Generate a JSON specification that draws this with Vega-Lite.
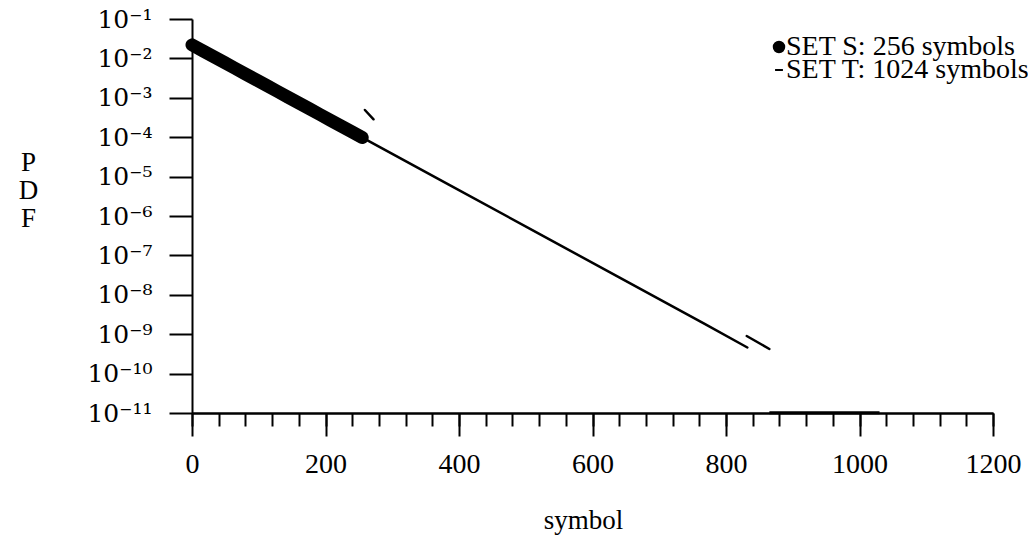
{
  "$schema": "https://vega.github.io/schema/vega-lite/v6.json",
  "width": 801,
  "height": 394,
  "autosize": "none",
  "padding": {"left": 192, "top": 19, "right": 35, "bottom": 131},
  "background": "white",
  "config": {
    "view": {"stroke": null},
    "font": "Liberation Serif",
    "axis": {
      "domainColor": "black", "domainWidth": 2, "tickColor": "black", "tickWidth": 2,
      "labelColor": "black", "titleColor": "black", "grid": false,
      "labelFont": "Liberation Serif", "titleFont": "Liberation Serif",
      "labelFlush": false, "labelOverlap": false, "titleFontWeight": "normal"
    }
  },
  "data": {
    "values": [
      {"part": "S", "series": "SET S: 256 symbols", "x": 0, "y": 0.02203},
      {"part": "S", "series": "SET S: 256 symbols", "x": 16, "y": 0.01568},
      {"part": "S", "series": "SET S: 256 symbols", "x": 32, "y": 0.01117},
      {"part": "S", "series": "SET S: 256 symbols", "x": 48, "y": 0.007951},
      {"part": "S", "series": "SET S: 256 symbols", "x": 64, "y": 0.005659},
      {"part": "S", "series": "SET S: 256 symbols", "x": 80, "y": 0.00403},
      {"part": "S", "series": "SET S: 256 symbols", "x": 96, "y": 0.00287},
      {"part": "S", "series": "SET S: 256 symbols", "x": 112, "y": 0.002044},
      {"part": "S", "series": "SET S: 256 symbols", "x": 128, "y": 0.001455},
      {"part": "S", "series": "SET S: 256 symbols", "x": 144, "y": 0.001036},
      {"part": "S", "series": "SET S: 256 symbols", "x": 160, "y": 0.0007375},
      {"part": "S", "series": "SET S: 256 symbols", "x": 176, "y": 0.0005252},
      {"part": "S", "series": "SET S: 256 symbols", "x": 192, "y": 0.0003739},
      {"part": "S", "series": "SET S: 256 symbols", "x": 208, "y": 0.0002662},
      {"part": "S", "series": "SET S: 256 symbols", "x": 224, "y": 0.0001895},
      {"part": "S", "series": "SET S: 256 symbols", "x": 240, "y": 0.0001349},
      {"part": "S", "series": "SET S: 256 symbols", "x": 255, "y": 0.0000981},
      {"part": "T", "series": "SET T: 1024 symbols", "x": 0, "y": 0.02203},
      {"part": "T", "series": "SET T: 1024 symbols", "x": 128, "y": 0.001455},
      {"part": "T", "series": "SET T: 1024 symbols", "x": 256, "y": 0.0000961},
      {"part": "T", "series": "SET T: 1024 symbols", "x": 384, "y": 0.000006345},
      {"part": "T", "series": "SET T: 1024 symbols", "x": 512, "y": 4.195e-7},
      {"part": "T", "series": "SET T: 1024 symbols", "x": 640, "y": 2.768e-8},
      {"part": "T", "series": "SET T: 1024 symbols", "x": 768, "y": 1.828e-9},
      {"part": "T", "series": "SET T: 1024 symbols", "x": 832, "y": 4.6e-10},
      {"part": "tail", "series": "SET T: 1024 symbols", "x": 831, "y": 9.0e-10},
      {"part": "tail", "series": "SET T: 1024 symbols", "x": 865, "y": 4.21e-10},
      {"part": "floor", "series": "SET T: 1024 symbols", "x": 865, "y": 1.02e-11},
      {"part": "floor", "series": "SET T: 1024 symbols", "x": 1030, "y": 1.02e-11},
      {"part": "dash", "series": "SET T: 1024 symbols", "x": 259, "y": 0.00049},
      {"part": "dash", "series": "SET T: 1024 symbols", "x": 272, "y": 0.000285}
    ]
  },
  "encoding": {
    "y": {
      "field": "y", "type": "quantitative",
      "scale": {"type": "log", "domain": [1e-11, 0.1], "nice": false},
      "axis": {
        "values": [0.1, 0.01, 0.001, 0.0001, 0.00001, 0.000001, 1e-7, 1e-8, 1e-9, 1e-10, 1e-11],
        "tickSize": 23, "labelPadding": 17, "labelFontSize": 25, "labelFont": "DejaVu Serif",
        "labelExpr": "'10⁻' + (round(-log(datum.value)/LN10) >= 10 ? '¹' + ['⁰','¹','²','³','⁴','⁵','⁶','⁷','⁸','⁹'][round(-log(datum.value)/LN10) - 10] : ['⁰','¹','²','³','⁴','⁵','⁶','⁷','⁸','⁹'][round(-log(datum.value)/LN10)])",
        "title": ["P", "D", "F"], "titleAngle": 0, "titleX": -164, "titleY": 143,
        "titleAlign": "center", "titleBaseline": "middle", "titleFontSize": 27, "titleLineHeight": 28
      }
    },
    "color": {
      "field": "series", "type": "nominal",
      "scale": {"domain": ["SET S: 256 symbols", "SET T: 1024 symbols"], "range": ["black", "black"]},
      "legend": {
        "orient": "none", "legendX": 573, "legendY": 19, "title": null, "padding": 0,
        "labelFont": "Liberation Serif", "labelFontSize": 28, "labelColor": "black", "labelLimit": 500,
        "labelOffset": -7, "rowPadding": -8, "clipHeight": 18, "symbolSize": 110,
        "encode": {
          "symbols": {
            "update": {
              "shape": {"signal": "datum.value === 'SET S: 256 symbols' ? 'circle' : 'M-0.75,0H0.75'"},
              "fill": {"signal": "datum.value === 'SET S: 256 symbols' ? 'black' : 'transparent'"},
              "stroke": {"value": "black"},
              "strokeWidth": {"value": 2}
            }
          }
        }
      }
    }
  },
  "layer": [
    {
      "transform": [{"filter": "datum.part === 'T'"}],
      "mark": {"type": "line", "strokeWidth": 2.5, "strokeCap": "round"},
      "encoding": {
        "x": {
          "field": "x", "type": "quantitative",
          "scale": {"domain": [0, 1200], "nice": false, "zero": false},
          "axis": {
            "orient": "bottom",
            "values": [0, 40, 80, 120, 160, 200, 240, 280, 320, 360, 400, 440, 480, 520, 560, 600, 640, 680, 720, 760, 800, 840, 880, 920, 960, 1000, 1040, 1080, 1120, 1160, 1200],
            "tickSize": 13, "labels": false, "title": null
          }
        }
      }
    },
    {
      "transform": [{"filter": "datum.part === 'S'"}],
      "mark": {"type": "line", "strokeWidth": 13, "strokeCap": "round"},
      "encoding": {
        "x": {
          "field": "x", "type": "quantitative",
          "scale": {"domain": [0, 1200], "nice": false, "zero": false},
          "axis": {
            "orient": "bottom", "format": "d",
            "values": [0, 200, 400, 600, 800, 1000, 1200],
            "tickSize": 23, "labelPadding": 14, "labelFontSize": 28,
            "title": "symbol", "titleX": 391, "titleY": 107, "titleBaseline": "middle", "titleFontSize": 27
          }
        }
      }
    },
    {
      "transform": [{"filter": "datum.part === 'tail' || datum.part === 'dash'"}],
      "mark": {"type": "line", "strokeWidth": 2.5, "strokeCap": "round"},
      "encoding": {
        "x": {"field": "x", "type": "quantitative", "axis": null},
        "detail": {"field": "part"}
      }
    },
    {
      "transform": [{"filter": "datum.part === 'floor'"}],
      "mark": {"type": "line", "strokeWidth": 3},
      "encoding": {
        "x": {"field": "x", "type": "quantitative", "axis": null}
      }
    }
  ],
  "resolve": {"axis": {"x": "independent"}}
}
